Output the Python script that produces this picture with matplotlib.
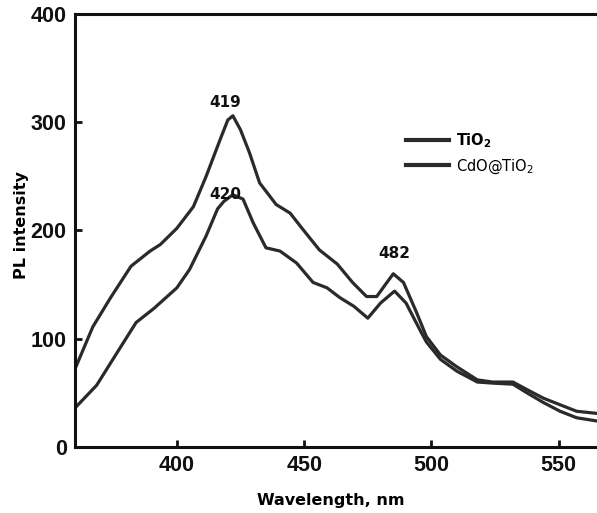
import matplotlib
matplotlib.use("Agg")
import matplotlib.pyplot as plt

# TiO2 spectrum (upper curve)
tio2_nm = [360, 367, 374, 382, 389.5, 393.5, 400, 406.5, 411.5, 417, 420, 422, 425,
           428.5, 432.5, 439, 444.5, 449.5, 456, 463, 469, 474.5, 478.5, 482.5, 485,
           489, 494, 498, 503.5, 510, 518, 524, 532, 537.5, 544, 550.5, 557, 565]
tio2_pl = [72, 111, 138, 167, 181, 187, 202, 222, 250, 284, 302, 306, 293,
           272, 244, 224, 216, 201, 182, 169, 152, 139, 139, 152, 160,
           152, 125, 102, 85, 74, 62, 60, 60, 53, 45, 39, 33, 31]

# CdO@TiO2 spectrum (lower curve)
cdo_nm = [360, 368.5, 376.5, 384, 391, 400, 405, 411.5, 416, 418.5, 422, 426, 430,
          435, 440.5, 447, 453.5, 459, 464, 469.5, 475, 480, 485.5, 490, 495.5,
          498, 503.5, 510, 518, 524, 532, 537.5, 544, 550.5, 557, 565]
cdo_pl = [36, 57, 87, 115, 128, 147, 164, 195, 220, 227, 233, 229, 207,
          184, 181, 170, 152, 147, 138, 130, 119, 133, 144, 133, 108,
          97, 81, 70, 60, 59, 58, 50, 41, 33, 27, 24]

series_labels = ["TiO$_2$", "CdO@TiO$_2$"]

peak_labels = ["419", "420", "482"]
peak_pos = [(419, 318), (419, 233), (485.5, 179)]

x_ticks = [400, 450, 500, 550]
y_ticks = [0, 100, 200, 300, 400]

plt.rcParams["mathtext.default"] = "regular"
line_color = "#2a2a2a"

fig = plt.figure(figsize=(5.97, 5.13), dpi=100)
ax = fig.add_axes([0.1256, 0.1287, 0.8744, 0.844])

ax.plot(tio2_nm, tio2_pl, color=line_color, lw=2.3, label=series_labels[0])
ax.plot(cdo_nm, cdo_pl, color=line_color, lw=2.3, label=series_labels[1])

for text, (px, py) in zip(peak_labels, peak_pos):
    ax.text(px, py, text, ha="center", va="center", fontsize=11,
            fontweight="bold", family="DejaVu Sans", color="#111111")

ax.set_xlim(360, 565)
ax.set_ylim(0, 400)
ax.set_xticks(x_ticks)
ax.set_yticks(y_ticks)

for lab in ax.get_xticklabels() + ax.get_yticklabels():
    lab.set_family(["Liberation Sans", "DejaVu Sans"])
    lab.set_fontweight("bold")
    lab.set_fontsize(15.5)

ax.tick_params(direction="in", length=5, width=2, pad=6, colors="#111111")
for side in ["left", "bottom", "top"]:
    ax.spines[side].set_linewidth(2.2)
    ax.spines[side].set_color("#111111")
ax.spines["right"].set_visible(False)

ax.set_xlabel("Wavelength, nm", fontsize=11.5, fontweight="bold", family="DejaVu Sans")
ax.set_ylabel("PL intensity", fontsize=11.5, fontweight="bold", family="DejaVu Sans")
ax.xaxis.set_label_coords(0.49, -0.106)
ax.yaxis.set_label_coords(-0.088, 0.513)

leg = ax.legend(loc="upper left", bbox_to_anchor=(0.635, 0.729), frameon=False,
                fontsize=10.5, handlelength=2.9, handletextpad=0.5, labelspacing=0.5,
                borderpad=0, borderaxespad=0)
for line in leg.get_lines():
    line.set_linewidth(3)
leg.get_texts()[0].set_fontweight("bold")

fig.savefig("out.png", dpi=100)
